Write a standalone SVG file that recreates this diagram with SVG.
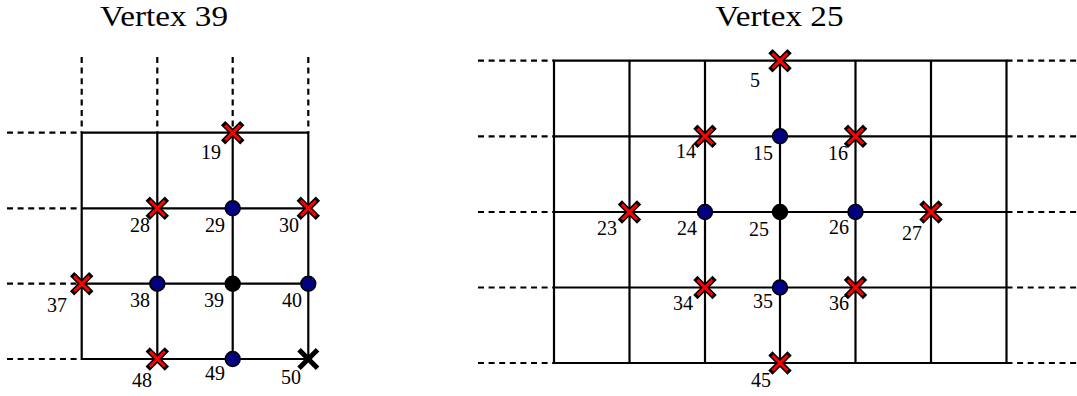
<svg xmlns="http://www.w3.org/2000/svg" width="1077" height="396" viewBox="0 0 1077 396">
<defs>
<style>
.g{stroke:#000;stroke-width:2.2;fill:none;stroke-linecap:square}
.d{stroke:#000;stroke-width:2.2;fill:none;stroke-dasharray:6 4.6}
.t{font-family:"Liberation Serif","Times New Roman",serif;font-size:29px;fill:#000}
.n{font-family:"Liberation Serif","Times New Roman",serif;font-size:20px;fill:#000;text-anchor:end}
.b{fill:#000080;stroke:#000;stroke-width:1.6}
.k{fill:#000;stroke:#000;stroke-width:1.6}
</style>
<g id="xr">
<path d="M-7.5,-7.5L7.5,7.5M7.5,-7.5L-7.5,7.5" stroke="#000" stroke-width="6" stroke-linecap="square"/>
<path d="M-7.5,-7.5L7.5,7.5M7.5,-7.5L-7.5,7.5" stroke="#ff0000" stroke-width="3" stroke-linecap="butt"/>
</g>
<g id="xk">
<path d="M-7.5,-7.5L7.5,7.5M7.5,-7.5L-7.5,7.5" stroke="#000" stroke-width="5" stroke-linecap="square"/>
</g>
</defs>
<rect width="1077" height="396" fill="#fff"/>
<text class="t" x="164" y="26" text-anchor="middle" textLength="128" lengthAdjust="spacingAndGlyphs">Vertex 39</text>
<text class="t" x="779.5" y="26" text-anchor="middle" textLength="128" lengthAdjust="spacingAndGlyphs">Vertex 25</text>
<g id="connectors">
<path class="g" d="M81.7,132.7H308.3M81.7,208.3H308.3M81.7,283.7H308.3M81.7,359H308.3M81.7,132.7V359M157.3,132.7V359M232.7,132.7V359M308.3,132.7V359"/>
<path class="d" d="M7,132.7H81.7M7,208.3H81.7M7,283.7H81.7M7,359H81.7M81.7,57V132.7M157.3,57V132.7M232.7,57V132.7M308.3,57V132.7"/>
<path class="g" d="M554,60.7H1006.5M554,136.3H1006.5M554,212H1006.5M554,287.5H1006.5M554,363H1006.5M554,60.7V363M629.5,60.7V363M705,60.7V363M780,60.7V363M855.5,60.7V363M931,60.7V363M1006.5,60.7V363"/>
<path class="d" d="M478,60.7H554M478,136.3H554M478,212H554M478,287.5H554M478,363H554M1006.5,60.7H1077M1006.5,136.3H1077M1006.5,212H1077M1006.5,287.5H1077M1006.5,363H1077"/>
</g>
<g id="v19"><use href="#xr" x="232.7" y="132.7"/><text class="n" x="221" y="159">19</text></g>
<g id="v28"><use href="#xr" x="157.3" y="208.3"/><text class="n" x="150" y="232">28</text></g>
<g id="v29"><circle class="b" cx="232.7" cy="208.3" r="7.4"/><text class="n" x="225" y="232">29</text></g>
<g id="v30"><use href="#xr" x="308.3" y="208.3"/><text class="n" x="299" y="232">30</text></g>
<g id="v37"><use href="#xr" x="81.7" y="283.7"/><text class="n" x="67" y="312">37</text></g>
<g id="v38"><circle class="b" cx="157.3" cy="283.7" r="7.4"/><text class="n" x="150" y="307">38</text></g>
<g id="v39"><circle class="k" cx="232.7" cy="283.7" r="7.4"/><text class="n" x="224" y="307">39</text></g>
<g id="v40"><circle class="b" cx="308.3" cy="283.7" r="7.4"/><text class="n" x="302" y="307">40</text></g>
<g id="v48"><use href="#xr" x="157.3" y="359"/><text class="n" x="152" y="387">48</text></g>
<g id="v49"><circle class="b" cx="232.7" cy="359" r="7.4"/><text class="n" x="225" y="380">49</text></g>
<g id="v50"><use href="#xk" x="308.3" y="359"/><text class="n" x="301" y="384">50</text></g>
<g id="v5"><use href="#xr" x="780" y="60.7"/><text class="n" x="760" y="87">5</text></g>
<g id="v14"><use href="#xr" x="705" y="136.3"/><text class="n" x="696" y="158">14</text></g>
<g id="v15"><circle class="b" cx="780" cy="136.3" r="7.4"/><text class="n" x="773" y="160">15</text></g>
<g id="v16"><use href="#xr" x="855.5" y="136.3"/><text class="n" x="848" y="160">16</text></g>
<g id="v23"><use href="#xr" x="629.5" y="212"/><text class="n" x="617" y="235">23</text></g>
<g id="v24"><circle class="b" cx="705" cy="212" r="7.4"/><text class="n" x="697" y="235">24</text></g>
<g id="v25"><circle class="k" cx="780" cy="212" r="7.4"/><text class="n" x="769" y="236">25</text></g>
<g id="v26"><circle class="b" cx="855.5" cy="212" r="7.4"/><text class="n" x="849" y="234">26</text></g>
<g id="v27"><use href="#xr" x="931" y="212"/><text class="n" x="922" y="240">27</text></g>
<g id="v34"><use href="#xr" x="705" y="287.5"/><text class="n" x="693" y="310">34</text></g>
<g id="v35"><circle class="b" cx="780" cy="287.5" r="7.4"/><text class="n" x="773" y="308">35</text></g>
<g id="v36"><use href="#xr" x="855.5" y="287.5"/><text class="n" x="849" y="310">36</text></g>
<g id="v45"><use href="#xr" x="780" y="363"/><text class="n" x="771" y="387">45</text></g>
</svg>
